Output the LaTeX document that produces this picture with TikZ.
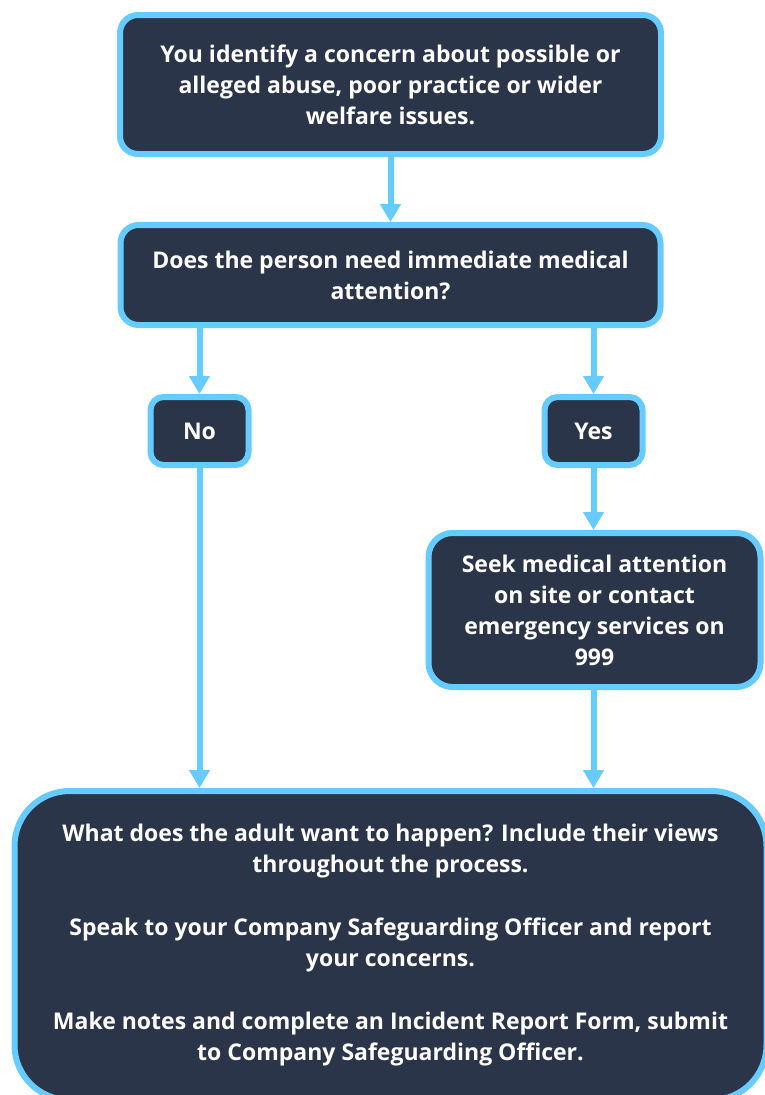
\documentclass[tikz,border=0pt]{standalone}
\usepackage{fontspec}
\setmainfont{Open Sans}
\usetikzlibrary{arrows.meta, positioning}
\definecolor{boxfill}{HTML}{2B3549}
\definecolor{boxline}{HTML}{66CCFF}

\begin{document}
\begin{tikzpicture}[node distance=2cm,on grid,
    every node/.style={font=\fontsize{23}{31}\selectfont\bfseries,text=white,align=center}]
  \tikzstyle{box}=[rectangle,draw=boxline,fill=boxfill,line width=6pt,rounded corners=18pt,inner sep=0pt]
  \tikzstyle{link}=[draw=boxline,line width=6pt,-{Triangle[width=20pt,length=18pt]}]
  \useasboundingbox (0,0) rectangle (764pt,-1095pt);
  % Boxes
  \node[box, minimum width=541pt, minimum height=139pt] (concern) at (390.5pt,-84.5pt)
    {You identify a concern about possible or\\alleged abuse, poor practice or wider\\welfare issues.};
  \node[box, minimum width=540pt, minimum height=100pt] (medical) [below=190.5pt of concern]
    {Does the person need immediate medical\\attention?};
  \node[box, minimum width=98pt, minimum height=68pt, rounded corners=13pt] (no) [below left=156pt and 191pt of medical] {No};
  \node[box, minimum width=98pt, minimum height=68pt, rounded corners=13pt] (yes) [right=394pt of no] {Yes};
  \node[box, minimum width=332pt, minimum height=154pt, rounded corners=24pt] (seek) [below right=179pt and 1pt of yes]
    {Seek medical attention\\on site or contact\\emergency services on\\999};
  \node[box, minimum width=752pt, minimum height=309pt, rounded corners=55pt] (report) [below right=514.5pt and 191pt of no]
    {What does the adult want to happen? Include their views\\throughout the process.\\[32pt]
     Speak to your Company Safeguarding Officer and report\\your concerns.\\[32pt]
     Make notes and complete an Incident Report Form, submit\\to Company Safeguarding Officer.};

  \path[link] (concern) -- (medical);
  \path[link] (no |- medical.south) -- (no);
  \path[link] (yes |- medical.south) -- (yes);
  \path[link] (yes.south) -- (yes |- seek.north);
  \path[link] (no.south) -- (no |- report.north);
  \path[link] (yes |- seek.south) -- (yes |- report.north);
\end{tikzpicture}
\end{document}
